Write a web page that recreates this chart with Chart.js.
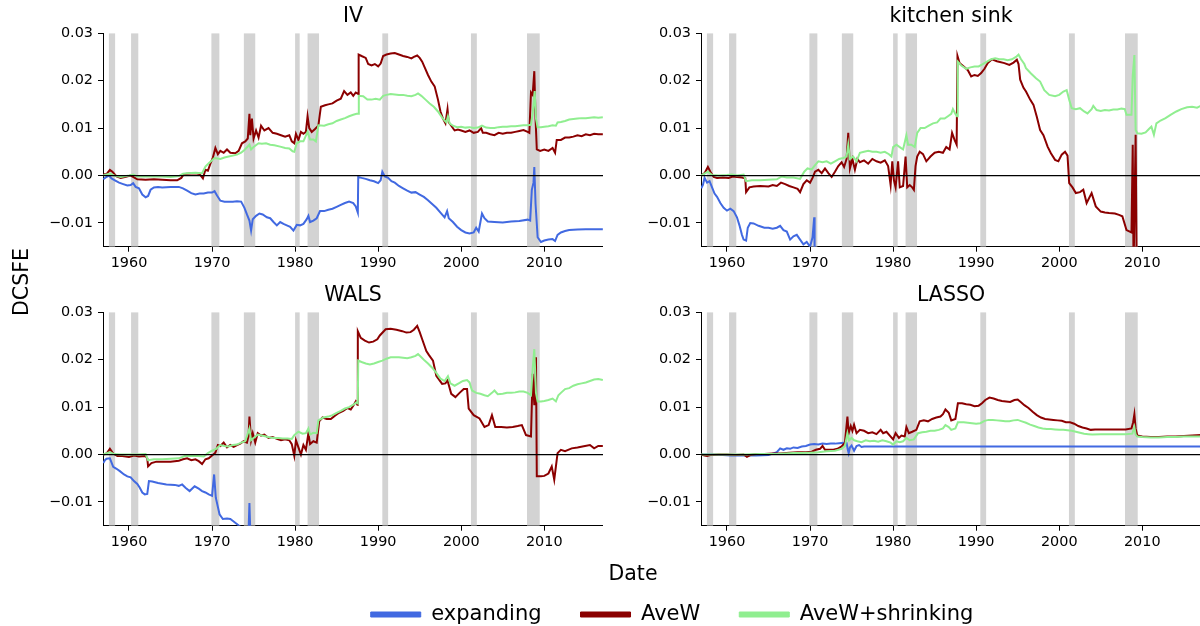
<!DOCTYPE html>
<html><head><meta charset="utf-8">
<script src="https://cdn.jsdelivr.net/npm/chart.js@4/dist/chart.umd.min.js"></script>
<style>
html,body{margin:0;padding:0;background:#fff;width:1200px;height:626px;overflow:hidden;position:relative}
canvas{position:absolute}
</style></head><body>
<canvas id="pIV" width="603" height="270" style="left:0;top:0"></canvas>
<canvas id="pKS" width="603" height="270" style="left:598px;top:0"></canvas>
<canvas id="pWALS" width="603" height="270" style="left:0;top:279px"></canvas>
<canvas id="pLASSO" width="603" height="270" style="left:598px;top:279px"></canvas>
<canvas id="ylab" width="40" height="200" style="left:10px;top:182px"></canvas>
<canvas id="xlab" width="120" height="30" style="left:573px;top:562px"></canvas>
<canvas id="leg" width="1000" height="150" style="left:172px;top:565px"></canvas>
<script>
// ---------- data ----------
const SERIES_NAMES = ['expanding', 'AveW', 'AveW+shrinking'];
const PANEL_TITLES = ['IV', 'kitchen sink', 'WALS', 'LASSO'];
const XTICKS = [1960, 1970, 1980, 1990, 2000, 2010];
const YTICKS = [-0.01, 0.00, 0.01, 0.02, 0.03];
const YTICK_LABELS = ['\u22120.01', '0.00', '0.01', '0.02', '0.03'];
const X_RANGE = [1956.87, 2017.07];
const Y_RANGE = [-0.015, 0.03];
// NBER recessions (peak, trough) in decimal years
const RECESSIONS = [[1957.58,1958.33],[1960.25,1961.12],[1969.92,1970.88],[1973.83,1975.2],[1980.0,1980.55],[1981.5,1982.88],[1990.5,1991.2],[2001.17,2001.88],[2007.92,2009.45]];

const IV_EXP = [[1956.9,-0.0008],[1957.2,-0.0004],[1957.6,0.0000],[1957.9,-0.0006],[1958.3,-0.0010],[1958.8,-0.0015],[1959.3,-0.0018],[1959.8,-0.0021],[1960.2,-0.0020],[1960.5,-0.0016],[1960.8,-0.0024],[1961.2,-0.0027],[1961.6,-0.0040],[1962.0,-0.0046],[1962.3,-0.0043],[1962.6,-0.0030],[1963.0,-0.0025],[1963.5,-0.0024],[1964.0,-0.0025],[1965.0,-0.0024],[1966.0,-0.0024],[1966.5,-0.0027],[1967.0,-0.0032],[1967.5,-0.0037],[1968.0,-0.0040],[1968.5,-0.0038],[1969.0,-0.0038],[1969.5,-0.0036],[1970.0,-0.0036],[1970.3,-0.0033],[1970.6,-0.0042],[1971.0,-0.0053],[1971.5,-0.0055],[1972.0,-0.0055],[1972.5,-0.0055],[1973.0,-0.0054],[1973.5,-0.0055],[1973.9,-0.0068],[1974.2,-0.0082],[1974.5,-0.0095],[1974.7,-0.0116],[1974.9,-0.0092],[1975.3,-0.0085],[1975.7,-0.0080],[1976.1,-0.0082],[1976.6,-0.0088],[1977.0,-0.0090],[1977.4,-0.0098],[1977.8,-0.0105],[1978.2,-0.0098],[1978.6,-0.0102],[1979.0,-0.0105],[1979.4,-0.0108],[1979.8,-0.0116],[1980.2,-0.0104],[1980.6,-0.0105],[1981.0,-0.0102],[1981.4,-0.0092],[1981.6,-0.0085],[1981.8,-0.0098],[1982.2,-0.0095],[1982.6,-0.0090],[1983.0,-0.0075],[1983.5,-0.0075],[1984.0,-0.0072],[1984.5,-0.0070],[1985.0,-0.0066],[1985.5,-0.0062],[1986.0,-0.0058],[1986.5,-0.0055],[1987.0,-0.0058],[1987.3,-0.0065],[1987.55,-0.0078],[1987.6,-0.0003],[1988.0,-0.0005],[1988.5,-0.0007],[1989.0,-0.0010],[1989.5,-0.0012],[1990.0,-0.0016],[1990.3,-0.0010],[1990.5,0.0008],[1990.8,-0.0002],[1991.2,-0.0005],[1991.6,-0.0012],[1992.0,-0.0015],[1992.5,-0.0022],[1993.0,-0.0027],[1993.5,-0.0032],[1994.0,-0.0036],[1994.5,-0.0035],[1995.0,-0.0040],[1995.5,-0.0045],[1996.0,-0.0052],[1996.5,-0.0060],[1997.0,-0.0068],[1997.5,-0.0078],[1998.0,-0.0088],[1998.3,-0.0075],[1998.5,-0.0090],[1999.0,-0.0098],[1999.5,-0.0108],[2000.0,-0.0115],[2000.5,-0.0120],[2001.0,-0.0122],[2001.5,-0.0120],[2001.8,-0.0110],[2002.1,-0.0118],[2002.5,-0.0080],[2002.8,-0.0090],[2003.2,-0.0097],[2004.0,-0.0098],[2005.0,-0.0099],[2006.0,-0.0097],[2007.0,-0.0096],[2008.0,-0.0093],[2008.3,-0.0095],[2008.5,-0.0030],[2008.7,-0.0015],[2008.8,0.0018],[2008.95,-0.0060],[2009.2,-0.0130],[2009.6,-0.0140],[2010.0,-0.0137],[2010.5,-0.0135],[2011.0,-0.0134],[2011.3,-0.0138],[2011.6,-0.0125],[2012.0,-0.0120],[2012.5,-0.0117],[2013.0,-0.0115],[2014.0,-0.0114],[2015.0,-0.0113],[2016.0,-0.0113],[2017.05,-0.0113]];
const IV_AVEW = [[1956.9,0.0002],[1957.3,0.0003],[1957.7,0.0012],[1958.0,0.0008],[1958.5,-0.0002],[1959.0,-0.0005],[1959.5,-0.0003],[1960.2,0.0000],[1960.6,-0.0004],[1961.0,-0.0008],[1962.0,-0.0009],[1963.0,-0.0008],[1964.0,-0.0009],[1965.0,-0.0010],[1965.8,-0.0010],[1966.3,-0.0005],[1966.6,0.0003],[1967.0,0.0004],[1968.0,0.0005],[1968.5,0.0003],[1968.9,-0.0006],[1969.2,0.0012],[1969.5,0.0010],[1969.8,0.0025],[1970.1,0.0038],[1970.4,0.0058],[1970.7,0.0045],[1971.0,0.0052],[1971.4,0.0048],[1971.8,0.0055],[1972.2,0.0048],[1972.8,0.0047],[1973.2,0.0052],[1973.6,0.0068],[1974.0,0.0072],[1974.3,0.0078],[1974.5,0.0130],[1974.6,0.0085],[1974.8,0.0120],[1975.0,0.0078],[1975.3,0.0095],[1975.6,0.0080],[1975.9,0.0105],[1976.3,0.0095],[1976.8,0.0100],[1977.3,0.0090],[1977.8,0.0088],[1978.3,0.0085],[1978.8,0.0082],[1979.3,0.0085],[1979.6,0.0072],[1979.9,0.0068],[1980.1,0.0088],[1980.4,0.0075],[1980.7,0.0092],[1981.0,0.0088],[1981.3,0.0092],[1981.5,0.0125],[1981.7,0.0100],[1982.0,0.0092],[1982.4,0.0098],[1982.8,0.0105],[1983.1,0.0145],[1983.6,0.0148],[1984.0,0.0150],[1984.5,0.0152],[1985.0,0.0158],[1985.5,0.0162],[1985.9,0.0178],[1986.3,0.0170],[1986.7,0.0175],[1987.0,0.0168],[1987.3,0.0175],[1987.6,0.0172],[1987.65,0.0255],[1988.0,0.0252],[1988.5,0.0248],[1988.8,0.0235],[1989.2,0.0232],[1989.6,0.0235],[1990.0,0.0230],[1990.3,0.0236],[1990.6,0.0252],[1991.0,0.0255],[1991.5,0.0257],[1992.0,0.0258],[1992.5,0.0255],[1993.0,0.0252],[1993.5,0.0250],[1994.0,0.0247],[1994.3,0.0250],[1994.7,0.0253],[1995.0,0.0248],[1995.3,0.0240],[1995.6,0.0228],[1996.0,0.0212],[1996.4,0.0198],[1996.8,0.0188],[1997.2,0.0160],[1997.5,0.0135],[1997.8,0.0120],[1998.1,0.0110],[1998.35,0.0140],[1998.5,0.0112],[1998.8,0.0105],[1999.2,0.0095],[1999.6,0.0097],[2000.0,0.0095],[2000.5,0.0092],[2001.0,0.0095],[2001.5,0.0090],[2002.0,0.0092],[2002.4,0.0100],[2002.6,0.0090],[2003.0,0.0090],[2003.5,0.0087],[2004.0,0.0085],[2004.5,0.0090],[2005.0,0.0088],[2005.5,0.0090],[2006.0,0.0090],[2006.5,0.0092],[2007.0,0.0094],[2007.5,0.0096],[2008.0,0.0092],[2008.2,0.0090],[2008.4,0.0175],[2008.6,0.0170],[2008.8,0.0220],[2008.95,0.0120],[2009.1,0.0055],[2009.5,0.0052],[2010.0,0.0055],[2010.5,0.0052],[2011.0,0.0058],[2011.3,0.0048],[2011.5,0.0075],[2012.0,0.0075],[2012.5,0.0080],[2013.0,0.0080],[2013.5,0.0082],[2014.0,0.0085],[2014.5,0.0083],[2015.0,0.0087],[2015.5,0.0085],[2016.0,0.0088],[2016.5,0.0087],[2017.05,0.0087]];
const IV_SHRINK = [[1956.9,0.0000],[1957.7,0.0004],[1958.2,0.0000],[1959.0,-0.0003],[1960.0,0.0000],[1960.5,0.0002],[1961.0,-0.0002],[1962.0,-0.0002],[1963.0,-0.0002],[1964.0,-0.0002],[1965.0,-0.0003],[1966.0,-0.0001],[1966.5,0.0004],[1967.0,0.0005],[1968.0,0.0006],[1968.8,0.0005],[1969.2,0.0019],[1969.6,0.0026],[1970.3,0.0037],[1971.0,0.0035],[1971.5,0.0038],[1972.0,0.0040],[1972.5,0.0042],[1973.0,0.0044],[1973.5,0.0048],[1973.9,0.0054],[1974.5,0.0065],[1974.7,0.0055],[1975.0,0.0060],[1975.6,0.0068],[1976.0,0.0067],[1976.5,0.0068],[1977.0,0.0065],[1977.5,0.0064],[1978.2,0.0061],[1978.8,0.0058],[1979.3,0.0057],[1979.7,0.0051],[1979.9,0.0050],[1980.2,0.0068],[1980.6,0.0072],[1981.0,0.0072],[1981.5,0.0092],[1981.8,0.0076],[1982.2,0.0076],[1982.5,0.0072],[1982.8,0.0106],[1983.5,0.0105],[1984.0,0.0108],[1984.5,0.0110],[1985.0,0.0115],[1985.5,0.0118],[1986.0,0.0121],[1986.5,0.0125],[1987.0,0.0128],[1987.4,0.0130],[1987.62,0.0130],[1987.67,0.0168],[1988.2,0.0167],[1988.7,0.0160],[1989.2,0.0160],[1989.7,0.0162],[1990.2,0.0160],[1990.6,0.0168],[1991.0,0.0170],[1991.5,0.0172],[1992.0,0.0171],[1992.5,0.0170],[1993.0,0.0170],[1993.5,0.0168],[1994.0,0.0167],[1994.5,0.0170],[1994.8,0.0173],[1995.2,0.0168],[1995.7,0.0160],[1996.2,0.0152],[1996.7,0.0145],[1997.2,0.0135],[1997.7,0.0122],[1998.2,0.0112],[1998.4,0.0125],[1998.6,0.0110],[1999.0,0.0105],[1999.5,0.0102],[2000.0,0.0103],[2000.5,0.0101],[2001.0,0.0102],[2001.5,0.0100],[2002.0,0.0101],[2002.5,0.0105],[2003.0,0.0101],[2003.5,0.0100],[2004.0,0.0100],[2004.5,0.0102],[2005.0,0.0103],[2005.5,0.0103],[2006.0,0.0104],[2006.5,0.0104],[2007.0,0.0105],[2007.5,0.0106],[2008.0,0.0106],[2008.4,0.0107],[2008.6,0.0130],[2008.85,0.0178],[2009.0,0.0120],[2009.2,0.0102],[2009.6,0.0102],[2010.0,0.0103],[2010.5,0.0104],[2011.0,0.0106],[2011.4,0.0105],[2011.6,0.0112],[2012.0,0.0113],[2012.5,0.0115],[2013.0,0.0118],[2013.5,0.0119],[2014.0,0.0120],[2014.5,0.0121],[2015.0,0.0121],[2015.5,0.0122],[2016.0,0.0123],[2016.5,0.0122],[2017.05,0.0123]];

const KS_EXP = [[1956.9,-0.0027],[1957.1,-0.0020],[1957.3,-0.0005],[1957.6,-0.0015],[1957.9,-0.0012],[1958.2,-0.0025],[1958.5,-0.0038],[1958.8,-0.0045],[1959.2,-0.0058],[1959.6,-0.0068],[1960.0,-0.0074],[1960.4,-0.0070],[1960.8,-0.0075],[1961.2,-0.0088],[1961.5,-0.0105],[1961.8,-0.0125],[1962.0,-0.0135],[1962.3,-0.0137],[1962.5,-0.0110],[1962.8,-0.0100],[1963.2,-0.0101],[1963.8,-0.0106],[1964.5,-0.0110],[1965.0,-0.0110],[1965.5,-0.0112],[1966.0,-0.0110],[1966.4,-0.0106],[1966.8,-0.0115],[1967.2,-0.0118],[1967.6,-0.0135],[1968.0,-0.0128],[1968.4,-0.0125],[1968.8,-0.0135],[1969.2,-0.0145],[1969.6,-0.0140],[1970.0,-0.0150],[1970.3,-0.0130],[1970.5,-0.0088],[1970.55,-0.0160],[1970.7,-0.0300]];
const KS_AVEW = [[1956.9,0.0000],[1957.3,0.0005],[1957.7,0.0018],[1958.0,0.0008],[1958.4,-0.0003],[1958.8,-0.0005],[1959.5,-0.0004],[1960.2,-0.0005],[1960.7,-0.0002],[1961.2,-0.0003],[1961.8,-0.0004],[1962.2,-0.0006],[1962.3,-0.0035],[1962.7,-0.0025],[1963.2,-0.0023],[1964.0,-0.0022],[1965.0,-0.0023],[1965.5,-0.0020],[1966.0,-0.0022],[1966.5,-0.0015],[1967.0,-0.0018],[1967.5,-0.0022],[1968.0,-0.0025],[1968.5,-0.0028],[1968.8,-0.0035],[1969.2,-0.0018],[1969.6,-0.0010],[1970.0,-0.0015],[1970.3,-0.0005],[1970.6,0.0008],[1971.0,0.0012],[1971.4,0.0005],[1971.8,0.0015],[1972.2,0.0005],[1972.6,-0.0003],[1973.0,0.0008],[1973.4,0.0020],[1973.8,0.0028],[1974.1,0.0018],[1974.4,0.0035],[1974.6,0.0090],[1974.8,0.0015],[1975.1,0.0035],[1975.4,0.0012],[1975.7,0.0035],[1976.0,0.0028],[1976.5,0.0032],[1977.0,0.0025],[1977.5,0.0035],[1978.0,0.0030],[1978.5,0.0027],[1979.0,0.0032],[1979.4,0.0020],[1979.7,-0.0020],[1979.9,0.0030],[1980.1,-0.0010],[1980.3,-0.0025],[1980.6,0.0030],[1980.8,-0.0025],[1981.2,-0.0022],[1981.5,0.0040],[1981.7,-0.0025],[1982.0,-0.0020],[1982.3,-0.0025],[1982.5,-0.0030],[1982.7,0.0020],[1982.9,0.0040],[1983.2,0.0050],[1983.6,0.0045],[1984.0,0.0030],[1984.5,0.0040],[1985.0,0.0048],[1985.5,0.0050],[1986.0,0.0048],[1986.4,0.0060],[1986.8,0.0055],[1987.1,0.0090],[1987.4,0.0075],[1987.65,0.0065],[1987.75,0.0252],[1988.0,0.0237],[1988.5,0.0230],[1989.0,0.0222],[1989.4,0.0209],[1989.8,0.0212],[1990.2,0.0210],[1990.6,0.0216],[1991.0,0.0225],[1991.4,0.0237],[1991.9,0.0245],[1992.5,0.0241],[1993.4,0.0237],[1994.0,0.0233],[1994.5,0.0238],[1994.9,0.0244],[1995.1,0.0235],[1995.3,0.0202],[1995.7,0.0185],[1996.0,0.0177],[1996.5,0.0160],[1996.9,0.0149],[1997.3,0.0124],[1997.7,0.0096],[1998.1,0.0085],[1998.6,0.0061],[1999.0,0.0047],[1999.5,0.0033],[1999.9,0.0030],[2000.3,0.0044],[2000.7,0.0050],[2001.0,0.0042],[2001.2,-0.0016],[2001.6,-0.0025],[2002.0,-0.0037],[2002.5,-0.0035],[2002.9,-0.0030],[2003.3,-0.0058],[2003.9,-0.0037],[2004.4,-0.0065],[2005.0,-0.0076],[2005.5,-0.0078],[2006.0,-0.0079],[2006.7,-0.0080],[2007.2,-0.0083],[2007.6,-0.0086],[2008.1,-0.0115],[2008.7,-0.0120],[2008.85,0.0065],[2008.95,-0.0200],[2009.2,0.0086],[2009.35,-0.0250],[2010.0,-0.0260]];
const KS_SHRINK = [[1956.9,0.0000],[1957.7,0.0008],[1958.2,0.0001],[1959.0,0.0000],[1960.0,0.0001],[1960.6,0.0002],[1961.2,0.0000],[1962.0,0.0002],[1962.3,-0.0012],[1963.0,-0.0010],[1964.0,-0.0010],[1965.0,-0.0009],[1966.0,-0.0008],[1966.6,-0.0002],[1967.2,-0.0004],[1968.0,-0.0004],[1968.8,-0.0007],[1969.3,0.0008],[1969.7,0.0015],[1970.2,0.0013],[1970.6,0.0022],[1971.0,0.0030],[1971.5,0.0028],[1972.0,0.0030],[1972.5,0.0025],[1973.0,0.0030],[1973.5,0.0035],[1974.0,0.0037],[1974.4,0.0040],[1974.6,0.0065],[1974.8,0.0035],[1975.2,0.0040],[1975.6,0.0030],[1976.0,0.0048],[1976.5,0.0050],[1977.0,0.0052],[1977.5,0.0050],[1978.0,0.0050],[1978.5,0.0048],[1979.0,0.0050],[1979.5,0.0045],[1979.8,0.0040],[1980.0,0.0060],[1980.4,0.0065],[1980.8,0.0060],[1981.2,0.0055],[1981.6,0.0085],[1981.8,0.0065],[1982.2,0.0065],[1982.6,0.0060],[1982.9,0.0090],[1983.3,0.0100],[1983.8,0.0100],[1984.3,0.0105],[1984.8,0.0110],[1985.3,0.0112],[1985.7,0.0120],[1986.2,0.0120],[1986.6,0.0125],[1987.0,0.0130],[1987.2,0.0140],[1987.5,0.0130],[1987.7,0.0125],[1987.78,0.0240],[1988.2,0.0232],[1988.8,0.0225],[1989.3,0.0228],[1989.8,0.0230],[1990.3,0.0230],[1990.8,0.0235],[1991.3,0.0240],[1991.8,0.0245],[1992.3,0.0247],[1992.8,0.0245],[1993.3,0.0245],[1993.8,0.0243],[1994.3,0.0245],[1994.8,0.0250],[1995.1,0.0255],[1995.4,0.0245],[1995.8,0.0235],[1996.0,0.0226],[1996.6,0.0215],[1997.2,0.0205],[1997.7,0.0198],[1998.2,0.0180],[1998.8,0.0170],[1999.5,0.0167],[2000.0,0.0170],[2000.5,0.0177],[2000.9,0.0180],[2001.2,0.0160],[2001.5,0.0142],[2002.0,0.0140],[2002.5,0.0142],[2003.0,0.0135],[2003.4,0.0131],[2003.9,0.0140],[2004.1,0.0147],[2004.5,0.0138],[2005.0,0.0136],[2005.5,0.0138],[2006.0,0.0137],[2006.5,0.0139],[2007.0,0.0139],[2007.5,0.0141],[2007.9,0.0140],[2008.1,0.0128],[2008.7,0.0128],[2008.85,0.0210],[2009.05,0.0254],[2009.2,0.0096],[2009.4,0.0089],[2009.9,0.0088],[2010.4,0.0091],[2010.8,0.0098],[2011.1,0.0103],[2011.4,0.0086],[2011.7,0.0110],[2012.2,0.0116],[2012.8,0.0121],[2013.4,0.0128],[2014.1,0.0135],[2014.7,0.0140],[2015.4,0.0144],[2016.0,0.0145],[2016.6,0.0143],[2017.05,0.0147]];

const WALS_EXP = [[1956.9,-0.0018],[1957.1,-0.0012],[1957.3,-0.0009],[1957.7,-0.0008],[1958.1,-0.0026],[1958.5,-0.0030],[1958.9,-0.0035],[1959.4,-0.0042],[1959.8,-0.0046],[1960.2,-0.0048],[1960.6,-0.0056],[1961.0,-0.0062],[1961.3,-0.0070],[1961.6,-0.0080],[1961.9,-0.0084],[1962.2,-0.0083],[1962.4,-0.0056],[1962.8,-0.0057],[1963.5,-0.0060],[1964.5,-0.0063],[1965.5,-0.0064],[1966.0,-0.0066],[1966.4,-0.0063],[1966.8,-0.0070],[1967.3,-0.0077],[1967.9,-0.0067],[1968.4,-0.0072],[1968.8,-0.0077],[1969.2,-0.0080],[1969.6,-0.0084],[1970.0,-0.0087],[1970.25,-0.0042],[1970.45,-0.0091],[1970.9,-0.0126],[1971.3,-0.0136],[1971.8,-0.0135],[1972.2,-0.0136],[1972.6,-0.0141],[1973.1,-0.0148],[1973.6,-0.0155],[1974.4,-0.0160],[1974.5,-0.0102],[1974.6,-0.0160],[1974.7,-0.0300]];
const WALS_AVEW = [[1956.9,0.0000],[1957.3,0.0002],[1957.7,0.0012],[1958.1,0.0002],[1958.6,-0.0003],[1959.2,-0.0003],[1960.0,-0.0005],[1960.6,-0.0002],[1961.2,-0.0004],[1962.0,-0.0003],[1962.2,-0.0008],[1962.3,-0.0025],[1962.7,-0.0018],[1963.3,-0.0015],[1964.0,-0.0015],[1965.0,-0.0015],[1966.0,-0.0013],[1966.5,-0.0010],[1967.0,-0.0008],[1967.5,-0.0012],[1968.0,-0.0010],[1968.4,-0.0014],[1968.8,-0.0020],[1969.2,-0.0010],[1969.6,-0.0008],[1970.0,-0.0002],[1970.4,0.0004],[1970.7,0.0020],[1971.0,0.0018],[1971.4,0.0025],[1971.8,0.0015],[1972.2,0.0020],[1972.6,0.0016],[1973.0,0.0020],[1973.4,0.0023],[1973.8,0.0028],[1974.2,0.0025],[1974.4,0.0040],[1974.5,0.0080],[1974.7,0.0030],[1974.9,0.0045],[1975.2,0.0025],[1975.5,0.0045],[1975.9,0.0040],[1976.3,0.0042],[1976.8,0.0035],[1977.3,0.0037],[1977.8,0.0033],[1978.3,0.0030],[1978.8,0.0032],[1979.3,0.0030],[1979.6,0.0022],[1979.9,-0.0003],[1980.1,0.0030],[1980.4,0.0015],[1980.7,0.0000],[1981.0,0.0020],[1981.3,0.0010],[1981.6,0.0045],[1981.8,0.0022],[1982.2,0.0028],[1982.6,0.0025],[1982.9,0.0070],[1983.3,0.0078],[1983.8,0.0075],[1984.3,0.0075],[1984.8,0.0082],[1985.3,0.0088],[1985.8,0.0092],[1986.3,0.0098],[1986.7,0.0095],[1987.0,0.0103],[1987.3,0.0112],[1987.5,0.0105],[1987.55,0.0260],[1987.9,0.0246],[1988.4,0.0240],[1988.9,0.0236],[1989.4,0.0238],[1989.9,0.0243],[1990.2,0.0251],[1990.9,0.0264],[1991.5,0.0265],[1992.2,0.0263],[1992.9,0.0260],[1993.4,0.0257],[1993.9,0.0258],[1994.3,0.0263],[1994.7,0.0271],[1995.0,0.0258],[1995.3,0.0243],[1995.8,0.0218],[1996.1,0.0210],[1996.6,0.0198],[1997.0,0.0166],[1997.7,0.0149],[1998.1,0.0150],[1998.35,0.0156],[1998.8,0.0128],[1999.3,0.0121],[1999.8,0.0130],[2000.3,0.0138],[2000.7,0.0138],[2000.9,0.0097],[2001.5,0.0083],[2002.2,0.0076],[2002.8,0.0058],[2003.3,0.0062],[2003.7,0.0083],[2004.1,0.0058],[2004.8,0.0058],[2005.5,0.0057],[2006.2,0.0058],[2006.8,0.0060],[2007.3,0.0062],[2007.8,0.0041],[2008.4,0.0038],[2008.6,0.0170],[2008.8,0.0104],[2009.0,0.0205],[2009.1,-0.0046],[2009.6,-0.0046],[2010.0,-0.0045],[2010.5,-0.0040],[2010.9,-0.0025],[2011.2,-0.0053],[2011.6,0.0003],[2012.0,0.0010],[2012.5,0.0007],[2013.3,0.0013],[2014.0,0.0015],[2014.6,0.0017],[2015.5,0.0020],[2016.0,0.0013],[2016.5,0.0018],[2017.05,0.0018]];
const WALS_SHRINK = [[1956.9,0.0000],[1957.7,0.0005],[1958.2,0.0001],[1959.0,0.0000],[1960.0,0.0000],[1961.0,0.0000],[1962.0,0.0001],[1962.3,-0.0012],[1963.0,-0.0010],[1964.0,-0.0010],[1965.0,-0.0009],[1966.0,-0.0008],[1966.7,-0.0003],[1967.5,-0.0003],[1968.3,-0.0003],[1969.0,-0.0004],[1969.5,0.0003],[1970.0,0.0008],[1970.5,0.0012],[1971.0,0.0020],[1971.5,0.0018],[1972.0,0.0017],[1972.5,0.0020],[1973.0,0.0021],[1973.5,0.0025],[1974.0,0.0028],[1974.5,0.0055],[1974.7,0.0030],[1975.0,0.0035],[1975.5,0.0042],[1976.0,0.0040],[1976.5,0.0038],[1977.0,0.0036],[1977.5,0.0035],[1978.0,0.0035],[1978.5,0.0034],[1979.1,0.0034],[1979.6,0.0033],[1979.9,0.0041],[1980.4,0.0048],[1980.9,0.0044],[1981.3,0.0045],[1981.6,0.0055],[1981.8,0.0042],[1982.2,0.0046],[1982.6,0.0045],[1982.8,0.0072],[1983.4,0.0078],[1984.0,0.0080],[1984.5,0.0083],[1985.0,0.0088],[1985.5,0.0092],[1986.0,0.0097],[1986.5,0.0100],[1987.0,0.0105],[1987.4,0.0110],[1987.55,0.0108],[1987.6,0.0198],[1988.0,0.0195],[1988.5,0.0192],[1989.0,0.0190],[1989.5,0.0192],[1990.0,0.0195],[1990.5,0.0198],[1991.0,0.0202],[1991.5,0.0205],[1992.0,0.0205],[1992.5,0.0205],[1993.0,0.0204],[1993.5,0.0203],[1994.0,0.0205],[1994.5,0.0208],[1994.8,0.0212],[1995.2,0.0205],[1995.6,0.0198],[1996.0,0.0192],[1996.5,0.0183],[1997.0,0.0172],[1997.5,0.0160],[1998.0,0.0155],[1998.4,0.0165],[1998.7,0.0150],[1999.2,0.0145],[1999.7,0.0150],[2000.2,0.0155],[2000.7,0.0157],[2001.0,0.0152],[2001.3,0.0135],[2001.8,0.0130],[2002.3,0.0128],[2002.8,0.0125],[2003.2,0.0123],[2003.7,0.0130],[2004.0,0.0135],[2004.4,0.0127],[2005.0,0.0128],[2005.5,0.0130],[2006.0,0.0130],[2006.5,0.0131],[2007.0,0.0133],[2007.5,0.0133],[2008.0,0.0130],[2008.4,0.0125],[2008.6,0.0180],[2008.8,0.0222],[2009.0,0.0130],[2009.2,0.0112],[2009.6,0.0112],[2010.0,0.0113],[2010.5,0.0115],[2011.0,0.0118],[2011.4,0.0112],[2011.7,0.0125],[2012.0,0.0130],[2012.5,0.0138],[2013.0,0.0140],[2013.5,0.0145],[2014.0,0.0148],[2014.5,0.0150],[2015.0,0.0152],[2015.5,0.0155],[2016.0,0.0158],[2016.5,0.0159],[2017.05,0.0157]];

const LASSO_EXP = [[1956.9,0.0000],[1958.0,0.0000],[1959.5,-0.0001],[1960.5,-0.0002],[1962.0,-0.0002],[1963.5,-0.0002],[1965.0,-0.0001],[1965.5,0.0002],[1966.0,0.0005],[1966.4,0.0013],[1966.8,0.0010],[1967.2,0.0013],[1967.6,0.0012],[1968.0,0.0015],[1968.5,0.0014],[1969.0,0.0017],[1969.5,0.0018],[1970.0,0.0021],[1970.5,0.0022],[1971.0,0.0021],[1971.5,0.0023],[1972.0,0.0022],[1972.5,0.0023],[1973.0,0.0023],[1973.5,0.0024],[1974.0,0.0025],[1974.4,0.0024],[1974.55,0.0010],[1974.65,0.0003],[1974.8,0.0015],[1975.0,0.0019],[1975.3,0.0008],[1975.6,0.0018],[1975.9,0.0020],[1976.2,0.0016],[1976.5,0.0017],[1990.0,0.0017],[2000.0,0.0017],[2010.0,0.0017],[2017.05,0.0017]];
const LASSO_AVEW = [[1956.9,0.0000],[1957.3,-0.0002],[1957.6,-0.0003],[1958.0,-0.0001],[1959.0,0.0000],[1960.0,0.0000],[1961.0,-0.0001],[1962.0,0.0000],[1962.4,-0.0005],[1962.8,-0.0001],[1963.5,0.0001],[1964.5,0.0001],[1965.5,0.0002],[1966.5,0.0002],[1967.5,0.0004],[1968.5,0.0005],[1969.5,0.0005],[1970.2,0.0006],[1970.7,0.0010],[1971.2,0.0012],[1971.5,0.0018],[1971.8,0.0010],[1972.3,0.0010],[1972.8,0.0010],[1973.3,0.0012],[1973.8,0.0017],[1974.2,0.0025],[1974.5,0.0080],[1974.65,0.0045],[1974.9,0.0060],[1975.1,0.0050],[1975.3,0.0063],[1975.6,0.0045],[1976.0,0.0052],[1976.5,0.0050],[1977.0,0.0045],[1977.5,0.0047],[1978.0,0.0043],[1978.5,0.0052],[1978.8,0.0045],[1979.2,0.0048],[1979.6,0.0040],[1980.0,0.0032],[1980.3,0.0045],[1980.7,0.0035],[1981.0,0.0040],[1981.4,0.0038],[1981.6,0.0058],[1981.9,0.0045],[1982.3,0.0048],[1982.8,0.0052],[1983.2,0.0070],[1983.7,0.0072],[1984.2,0.0070],[1984.7,0.0075],[1985.2,0.0078],[1985.7,0.0080],[1986.0,0.0085],[1986.3,0.0095],[1986.7,0.0088],[1987.0,0.0072],[1987.5,0.0075],[1987.8,0.0108],[1988.3,0.0108],[1988.8,0.0106],[1989.3,0.0105],[1989.8,0.0102],[1990.3,0.0103],[1990.7,0.0108],[1991.1,0.0115],[1991.6,0.0120],[1992.1,0.0118],[1992.6,0.0115],[1993.1,0.0113],[1993.6,0.0112],[1994.1,0.0111],[1994.6,0.0115],[1995.0,0.0116],[1995.4,0.0110],[1995.8,0.0104],[1996.3,0.0098],[1996.8,0.0090],[1997.3,0.0083],[1997.8,0.0078],[1998.3,0.0075],[1998.8,0.0074],[1999.3,0.0073],[1999.8,0.0072],[2000.3,0.0071],[2000.8,0.0068],[2001.3,0.0068],[2001.8,0.0065],[2002.3,0.0060],[2002.8,0.0057],[2003.3,0.0055],[2003.8,0.0052],[2004.3,0.0053],[2005.0,0.0053],[2006.0,0.0053],[2007.0,0.0053],[2008.0,0.0053],[2008.7,0.0055],[2008.9,0.0068],[2009.05,0.0085],[2009.2,0.0055],[2009.4,0.0040],[2010.0,0.0038],[2011.0,0.0037],[2012.0,0.0037],[2013.0,0.0038],[2014.0,0.0038],[2015.0,0.0039],[2016.0,0.0040],[2017.05,0.0041]];
const LASSO_SHRINK = [[1956.9,0.0000],[1958.0,0.0000],[1960.0,0.0000],[1962.0,0.0000],[1964.0,0.0001],[1966.0,0.0001],[1967.0,0.0002],[1968.0,0.0003],[1969.0,0.0003],[1970.0,0.0004],[1971.0,0.0005],[1972.0,0.0007],[1973.0,0.0008],[1973.8,0.0012],[1974.2,0.0018],[1974.5,0.0045],[1974.7,0.0030],[1975.0,0.0035],[1975.3,0.0030],[1975.7,0.0028],[1976.2,0.0026],[1976.7,0.0030],[1977.2,0.0028],[1977.7,0.0029],[1978.2,0.0027],[1978.7,0.0030],[1979.2,0.0028],[1979.7,0.0025],[1980.0,0.0021],[1980.4,0.0028],[1980.8,0.0026],[1981.2,0.0028],[1981.6,0.0035],[1982.0,0.0030],[1982.5,0.0032],[1983.0,0.0045],[1983.5,0.0047],[1984.0,0.0048],[1984.5,0.0050],[1985.0,0.0050],[1985.5,0.0052],[1986.0,0.0055],[1986.3,0.0062],[1986.7,0.0058],[1987.0,0.0052],[1987.5,0.0055],[1987.8,0.0068],[1988.5,0.0068],[1989.0,0.0067],[1989.5,0.0066],[1990.0,0.0065],[1990.5,0.0066],[1991.0,0.0071],[1991.5,0.0073],[1992.0,0.0073],[1992.5,0.0072],[1993.0,0.0071],[1993.5,0.0070],[1994.0,0.0070],[1994.5,0.0072],[1995.0,0.0073],[1995.5,0.0070],[1996.0,0.0067],[1996.5,0.0063],[1997.0,0.0060],[1997.5,0.0057],[1998.0,0.0055],[1998.5,0.0054],[1999.0,0.0054],[1999.5,0.0053],[2000.0,0.0052],[2000.5,0.0052],[2001.0,0.0051],[2001.5,0.0050],[2002.0,0.0048],[2002.5,0.0046],[2003.0,0.0044],[2003.5,0.0043],[2004.0,0.0042],[2005.0,0.0043],[2006.0,0.0043],[2007.0,0.0043],[2008.0,0.0043],[2008.8,0.0044],[2009.05,0.0058],[2009.2,0.0042],[2009.4,0.0038],[2010.0,0.0037],[2011.0,0.0036],[2012.0,0.0036],[2013.0,0.0037],[2014.0,0.0037],[2015.0,0.0038],[2016.0,0.0038],[2017.05,0.0038]];

// ---------- styling ----------
const COLORS = {exp: '#4169e1', avew: '#8b0000', shrink: '#90ee90'};
const FONT = "'DejaVu Sans', 'Liberation Sans', sans-serif";
Chart.defaults.font.family = FONT;
Chart.defaults.color = '#000';

const toXY = arr => arr.map(p => ({x: p[0], y: p[1]}));

const shadePlugin = {
  id: 'shadeAndZero',
  beforeDatasetsDraw(chart) {
    const {ctx, chartArea: a, scales: {x}} = chart;
    ctx.save();
    ctx.beginPath(); ctx.rect(a.left, a.top, a.right - a.left, a.bottom - a.top); ctx.clip();
    ctx.fillStyle = '#d3d3d3';
    RECESSIONS.forEach(([s, e]) => {
      const x1 = x.getPixelForValue(s), x2 = x.getPixelForValue(e);
      ctx.fillRect(x1, a.top, x2 - x1, a.bottom - a.top);
    });
    ctx.restore();
  },
  afterDatasetsDraw(chart) {
    const {ctx, chartArea: a, scales: {y}} = chart;
    const y0 = y.getPixelForValue(0);
    ctx.save();
    ctx.strokeStyle = '#000';
    ctx.lineWidth = 1.2;
    ctx.beginPath(); ctx.moveTo(a.left, y0); ctx.lineTo(a.right, y0); ctx.stroke();
    ctx.restore();
  }
};

function panel(id, title, exp, avew, shrink) {
  const ds = (label, data, color) => ({label, data: toXY(data), borderColor: color, backgroundColor: color,
    borderWidth: 2, pointRadius: 0, tension: 0, fill: false});
  new Chart(document.getElementById(id), {
    type: 'line',
    data: {datasets: [ds(SERIES_NAMES[2], shrink, COLORS.shrink), ds(SERIES_NAMES[1], avew, COLORS.avew), ds(SERIES_NAMES[0], exp, COLORS.exp)]},
    options: {
      responsive: false, animation: false, events: [],
      layout: {padding: 0},
      plugins: {
        legend: {display: false}, tooltip: {enabled: false},
        title: {display: true, text: title, fullSize: false, color: '#000',
          font: {size: 20.5, weight: 'normal', family: FONT}, padding: {top: 4, bottom: 4.6}}
      },
      scales: {
        x: {type: 'linear', min: X_RANGE[0], max: X_RANGE[1],
          afterBuildTicks: s => { s.ticks = XTICKS.map(v => ({value: v})); },
          afterFit: s => { s.height = 23.3; },
          ticks: {autoSkip: false, maxRotation: 0, padding: 3, color: '#000', font: {size: 14.4}, callback: v => String(v)},
          grid: {drawOnChartArea: false, drawTicks: true, tickLength: 5, tickColor: '#000', tickWidth: 1},
          border: {display: true, color: '#000', width: 1}},
        y: {type: 'linear', min: Y_RANGE[0], max: Y_RANGE[1],
          afterBuildTicks: s => { s.ticks = YTICKS.map(v => ({value: v})); },
          afterFit: s => { s.width = 103; },
          ticks: {autoSkip: false, padding: 5, color: '#000', font: {size: 14.4}, callback: (v, i) => YTICK_LABELS[i]},
          grid: {drawOnChartArea: false, drawTicks: true, tickLength: 5, tickColor: '#000', tickWidth: 1},
          border: {display: true, color: '#000', width: 1}}
      }
    },
    plugins: [shadePlugin]
  });
}

panel('pIV', PANEL_TITLES[0], IV_EXP, IV_AVEW, IV_SHRINK);
panel('pKS', PANEL_TITLES[1], KS_EXP, KS_AVEW, KS_SHRINK);
panel('pWALS', PANEL_TITLES[2], WALS_EXP, WALS_AVEW, WALS_SHRINK);
panel('pLASSO', PANEL_TITLES[3], LASSO_EXP, LASSO_AVEW, LASSO_SHRINK);

const hiddenScales = {x: {display: false}, y: {display: false}};
function labelChart(id, text, position) {
  new Chart(document.getElementById(id), {
    type: 'line', data: {datasets: []},
    options: {responsive: false, animation: false, events: [], layout: {padding: 0}, scales: hiddenScales,
      plugins: {legend: {display: false}, tooltip: {enabled: false},
        title: {display: true, text, position, color: '#000', padding: 0, font: {size: 20.5, weight: 'normal', family: FONT}}}}
  });
}
labelChart('ylab', 'DCSFE', 'left');
labelChart('xlab', 'Date', 'top');

new Chart(document.getElementById('leg'), {
  type: 'line',
  data: {datasets: [
    {label: SERIES_NAMES[0], data: [], borderColor: COLORS.exp, backgroundColor: COLORS.exp, borderWidth: 1},
    {label: SERIES_NAMES[1], data: [], borderColor: COLORS.avew, backgroundColor: COLORS.avew, borderWidth: 1},
    {label: SERIES_NAMES[2], data: [], borderColor: COLORS.shrink, backgroundColor: COLORS.shrink, borderWidth: 1}
  ]},
  options: {responsive: false, animation: false, events: [], layout: {padding: 0}, scales: hiddenScales,
    plugins: {tooltip: {enabled: false},
      legend: {display: true, position: 'top', align: 'center',
        labels: {boxWidth: 50, boxHeight: 5, padding: 39, color: '#000', font: {size: 21, family: FONT}}}}}
});
</script>
</body></html>
